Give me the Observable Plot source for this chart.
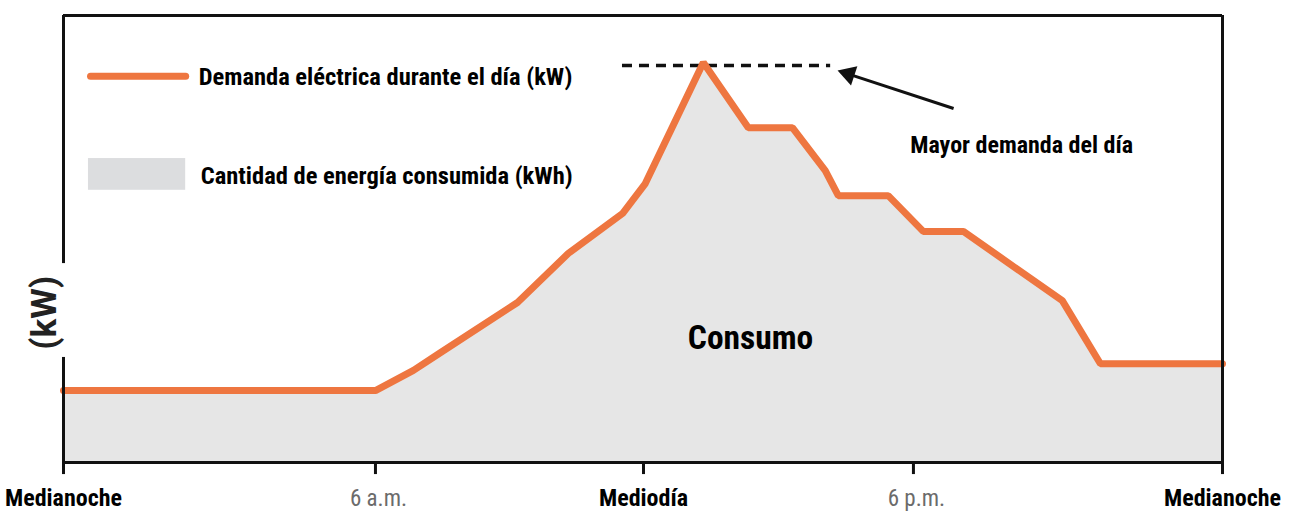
<!DOCTYPE html>
<html><head><meta charset="utf-8">
<script src="https://cdn.jsdelivr.net/npm/d3@7"></script>
<script src="https://cdn.jsdelivr.net/npm/@observablehq/plot@0.6"></script>
<style>
html,body{margin:0;padding:0;background:#fff;}
svg{display:block;}
</style>
</head><body>
<div id="chart"></div>
<script>
// Hours of the day (0 = midnight) and demand (kW, arbitrary units)
const hours  = [0, 6, 6.85, 7.46, 9.18, 10.32, 11.53, 12.04, 13.33, 14.33, 15.31, 16.04, 16.33, 17.44, 18.19, 18.97, 20.89, 21.63, 24];
const demand = [16.1, 16.1, 20.6, 24.6, 35.8, 46.8, 55.7, 62.4, 89.5, 74.9, 74.9, 65.3, 59.7, 59.7, 51.7, 51.7, 36.2, 22.1, 22.1];

const tickHours  = [0, 6, 12, 18, 24];
const tickLabels = ["Medianoche", "6 a.m.", "Mediodía", "6 p.m.", "Medianoche"];
const tickStrong = [true, false, true, false, true];
// where each tick sits along the (unevenly drawn) time axis, in hour-equivalents
const tickPlaces = [0, 6.46, 12.01, 17.6, 24];

const legendLabels = ["Demanda eléctrica durante el día (kW)", "Cantidad de energía consumida (kWh)"];
const peakLabel = "Mayor demanda del día";
const areaLabel = "Consumo";
const yLabel = "(kW)";

const data = hours.map((h, i) => ({h, v: demand[i]}));
const ticks = tickHours.map((h, i) => ({h, label: tickLabels[i], strong: tickStrong[i]}));
const warp = d3.scaleLinear().domain(tickHours).range(tickPlaces);

const FONT = '"Roboto Condensed", "DejaVu Sans", "Liberation Sans", sans-serif';
const ORANGE = "#ee7640";

const chart = Plot.plot({
  width: 1292,
  height: 513,
  marginLeft: 63,
  marginRight: 70,
  marginTop: 15,
  marginBottom: 51,
  style: {fontFamily: FONT, background: "#fff"},
  x: {domain: [0, 24], transform: warp, axis: null},
  y: {domain: [0, 100], axis: null},
  marks: [
    Plot.areaY(data, {x: "h", y: "v", fill: "#e6e6e6"}),
    // legend swatches
    Plot.rect([{x1: 0.48, x2: 2.35, y1: 60.9, y2: 68.0}], {x1: "x1", x2: "x2", y1: "y1", y2: "y2", fill: "#dcdddf"}),
    Plot.line([{x: 0.52, y: 86.4}, {x: 2.35, y: 86.4}], {x: "x", y: "y", stroke: ORANGE, strokeWidth: 7}),
    Plot.text([legendLabels[0]], {x: 2.6, y: 86.1, text: d => d, textAnchor: "start", fontSize: 24.5, fontWeight: "bold", fill: "#000"}),
    Plot.text([legendLabels[1]], {x: 2.64, y: 64.0, text: d => d, textAnchor: "start", fontSize: 24.5, fontWeight: "bold", fill: "#000"}),
    // peak dashed line
    Plot.ruleY([88.8], {x1: 11.53, x2: 16.16, stroke: "#111", strokeWidth: 3.5, strokeDasharray: "10,7"}),
    // demand line
    Plot.line(data, {x: "h", y: "v", stroke: ORANGE, strokeWidth: 7, strokeLinejoin: "miter"}),
    // arrow
    Plot.link([{x1: 18.78, y1: 79.2, x2: 16.56, y2: 86.9}], {x1: "x1", y1: "y1", x2: "x2", y2: "y2", stroke: "#111", strokeWidth: 3}),
    Plot.dot([{x: 16.56, y: 86.9}], {x: "x", y: "y", symbol: "triangle", r: 7.5, fill: "#111", stroke: "none", rotate: -71.7}),
    Plot.text([peakLabel], {x: 17.93, y: 70.9, text: d => d, textAnchor: "start", fontSize: 24, fontWeight: "bold", fill: "#000"}),
    Plot.text([areaLabel], {x: 14.38, y: 27.7, text: d => d, fontSize: 33.5, fontWeight: "bold", fill: "#000"}),
    // frame
    Plot.ruleY([100], {x1: 0, x2: 24, stroke: "#111", strokeWidth: 3}),
    Plot.ruleY([0], {x1: 0, x2: 24, stroke: "#111", strokeWidth: 3}),
    Plot.ruleX([24], {y1: 0, y2: 100, stroke: "#111", strokeWidth: 3}),
    Plot.ruleX([0], {y1: 44.5, y2: 100, stroke: "#111", strokeWidth: 3}),
    Plot.ruleX([0], {y1: 0, y2: 23.5, stroke: "#111", strokeWidth: 3}),
    Plot.text([yLabel], {x: 0, y: 33.5, text: d => d, rotate: -90, dx: -19, fontSize: 35, fontWeight: "bold", fill: "#222", fontFamily: "Roboto, sans-serif"}),
    // x ticks
    Plot.ruleX(ticks, {x: "h", y1: 0, y2: -2.7, stroke: "#111", strokeWidth: 3}),
    Plot.text(ticks.filter(d => d.strong), {x: "h", y: 0, dy: 36, text: "label", fontSize: 24, fontWeight: "bold", fill: "#000"}),
    Plot.text(ticks.filter(d => !d.strong), {x: "h", y: 0, dy: 36, dx: 3, text: "label", fontSize: 23, fill: "#6b6b6b"})
  ]
});
document.getElementById("chart").appendChild(chart);
</script>
</body></html>
